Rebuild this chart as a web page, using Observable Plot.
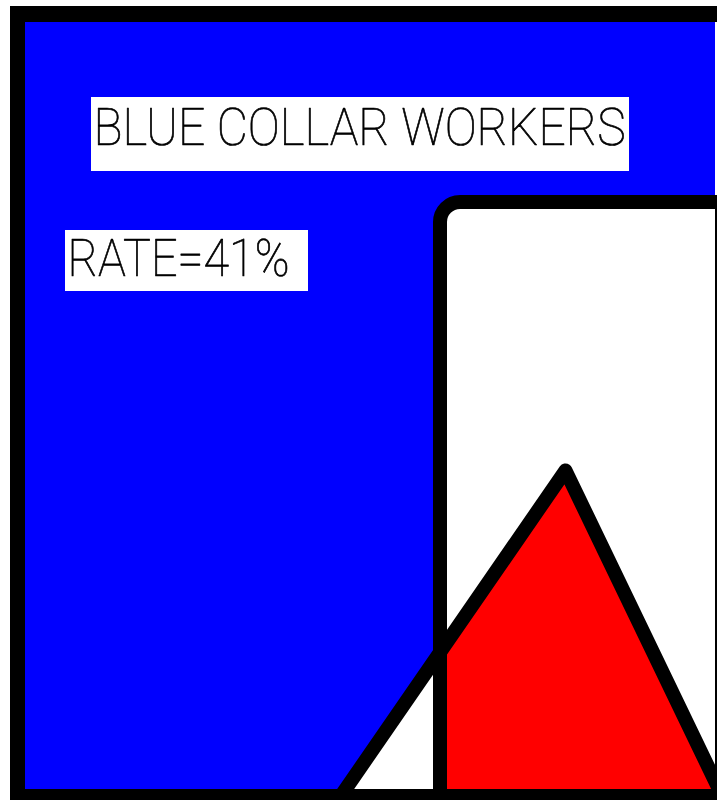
<!DOCTYPE html>
<html>
<head>
<meta charset="utf-8">
<script src="https://cdn.jsdelivr.net/npm/d3@7"></script>
<script src="https://cdn.jsdelivr.net/npm/@observablehq/plot@0.6"></script>
<style>
  html, body { margin: 0; padding: 0; background: #fff; }
  #chart svg { display: block; }
</style>
</head>
<body>
<div id="chart"></div>
<script>
// ---- chart content ----
const titleText = "BLUE COLLAR WORKERS";
const rate = 41;
const rateText = `RATE=${rate}%`;

// ---- pictogram geometry (scene units = canvas units) ----
const canvasX = [0, 717];
const canvasY = [0, 800];
const frameBands = [
  {x1: 10, x2: 720, y1: 6, y2: 22},
  {x1: 10, x2: 25, y1: 6, y2: 800},
];
const frameBottom = [{x1: 10, x2: 720, y1: 789, y2: 800}];
const panel = [{x1: 25, x2: 715, y1: 22, y2: 789}];
const card = [{x1: 440, x2: 900, y1: 202, y2: 900}];
const cardRightEdge = [{x: 716, y1: 195, y2: 800}];
const triangle = [
  {x: 340, y: 796},
  {x: 565, y: 470},
  {x: 722, y: 796}
];
const triangleBase = 796;
const labelBoxes = [
  {x1: 91, x2: 629, y1: 97, y2: 171},
  {x1: 65, x2: 308, y1: 230, y2: 291}
];
const labels = [
  {x: 93, y: 144, text: titleText, size: 52, len: 532},
  {x: 67, y: 275, text: rateText, size: 51, len: 222}
];

// red part = triangle portion inside the card (x >= card left edge)
const clipX = card[0].x1;
const [L, A, R] = triangle;
const yLeftAtClip = L.y + (A.y - L.y) * (clipX - L.x) / (A.x - L.x);
const redPart = [{x: clipX, y: yLeftAtClip}, A, R];
const outline = [L, A, R, L];

const plot = Plot.plot({
  width: 717,
  height: 800,
  margin: 0,
  x: {domain: canvasX, axis: null},
  y: {domain: canvasY, reverse: true, axis: null},
  style: {background: "white"},
  marks: [
    Plot.rect(frameBands, {x1: "x1", x2: "x2", y1: "y1", y2: "y2", fill: "black"}),
    Plot.rect(panel, {x1: "x1", x2: "x2", y1: "y1", y2: "y2", fill: "#0000ff"}),
    Plot.area(triangle, {x1: "x", y1: "y", y2: () => triangleBase, fill: "white", curve: "linear"}),
    Plot.rect(card, {x1: "x1", x2: "x2", y1: "y1", y2: "y2", fill: "white", rx: 20}),
    Plot.area(redPart, {x1: "x", y1: "y", y2: () => triangleBase, fill: "#ff0000", curve: "linear"}),
    Plot.rect(card, {x1: "x1", x2: "x2", y1: "y1", y2: "y2", fill: "none", stroke: "black", strokeWidth: 14, rx: 20}),
    Plot.ruleX(cardRightEdge, {x: "x", y1: "y1", y2: "y2", stroke: "black", strokeWidth: 3}),
    Plot.line(outline, {x: "x", y: "y", stroke: "black", strokeWidth: 14, strokeLinejoin: "round", curve: "linear"}),
    Plot.rect(frameBottom, {x1: "x1", x2: "x2", y1: "y1", y2: "y2", fill: "black"}),
    Plot.rect(labelBoxes, {x1: "x1", x2: "x2", y1: "y1", y2: "y2", fill: "white"}),
    Plot.text(labels, {
      x: "x", y: "y", text: "text",
      fontSize: d => d.size,
      textAnchor: "start", lineAnchor: "bottom",
      fill: "black",
      stroke: "black",
      strokeWidth: 0.7,
      fontFamily: "Roboto, 'DejaVu Sans', sans-serif",
      fontWeight: 100
    })
  ]
});

document.getElementById("chart").appendChild(plot);

// compress label glyphs to the measured widths
d3.select(plot).selectAll("g[aria-label='text'] text").each(function(_, i) {
  const t = labels[i];
  if (t) {
    this.setAttribute("textLength", t.len);
    this.setAttribute("lengthAdjust", "spacingAndGlyphs");
  }
});
</script>
</body>
</html>
